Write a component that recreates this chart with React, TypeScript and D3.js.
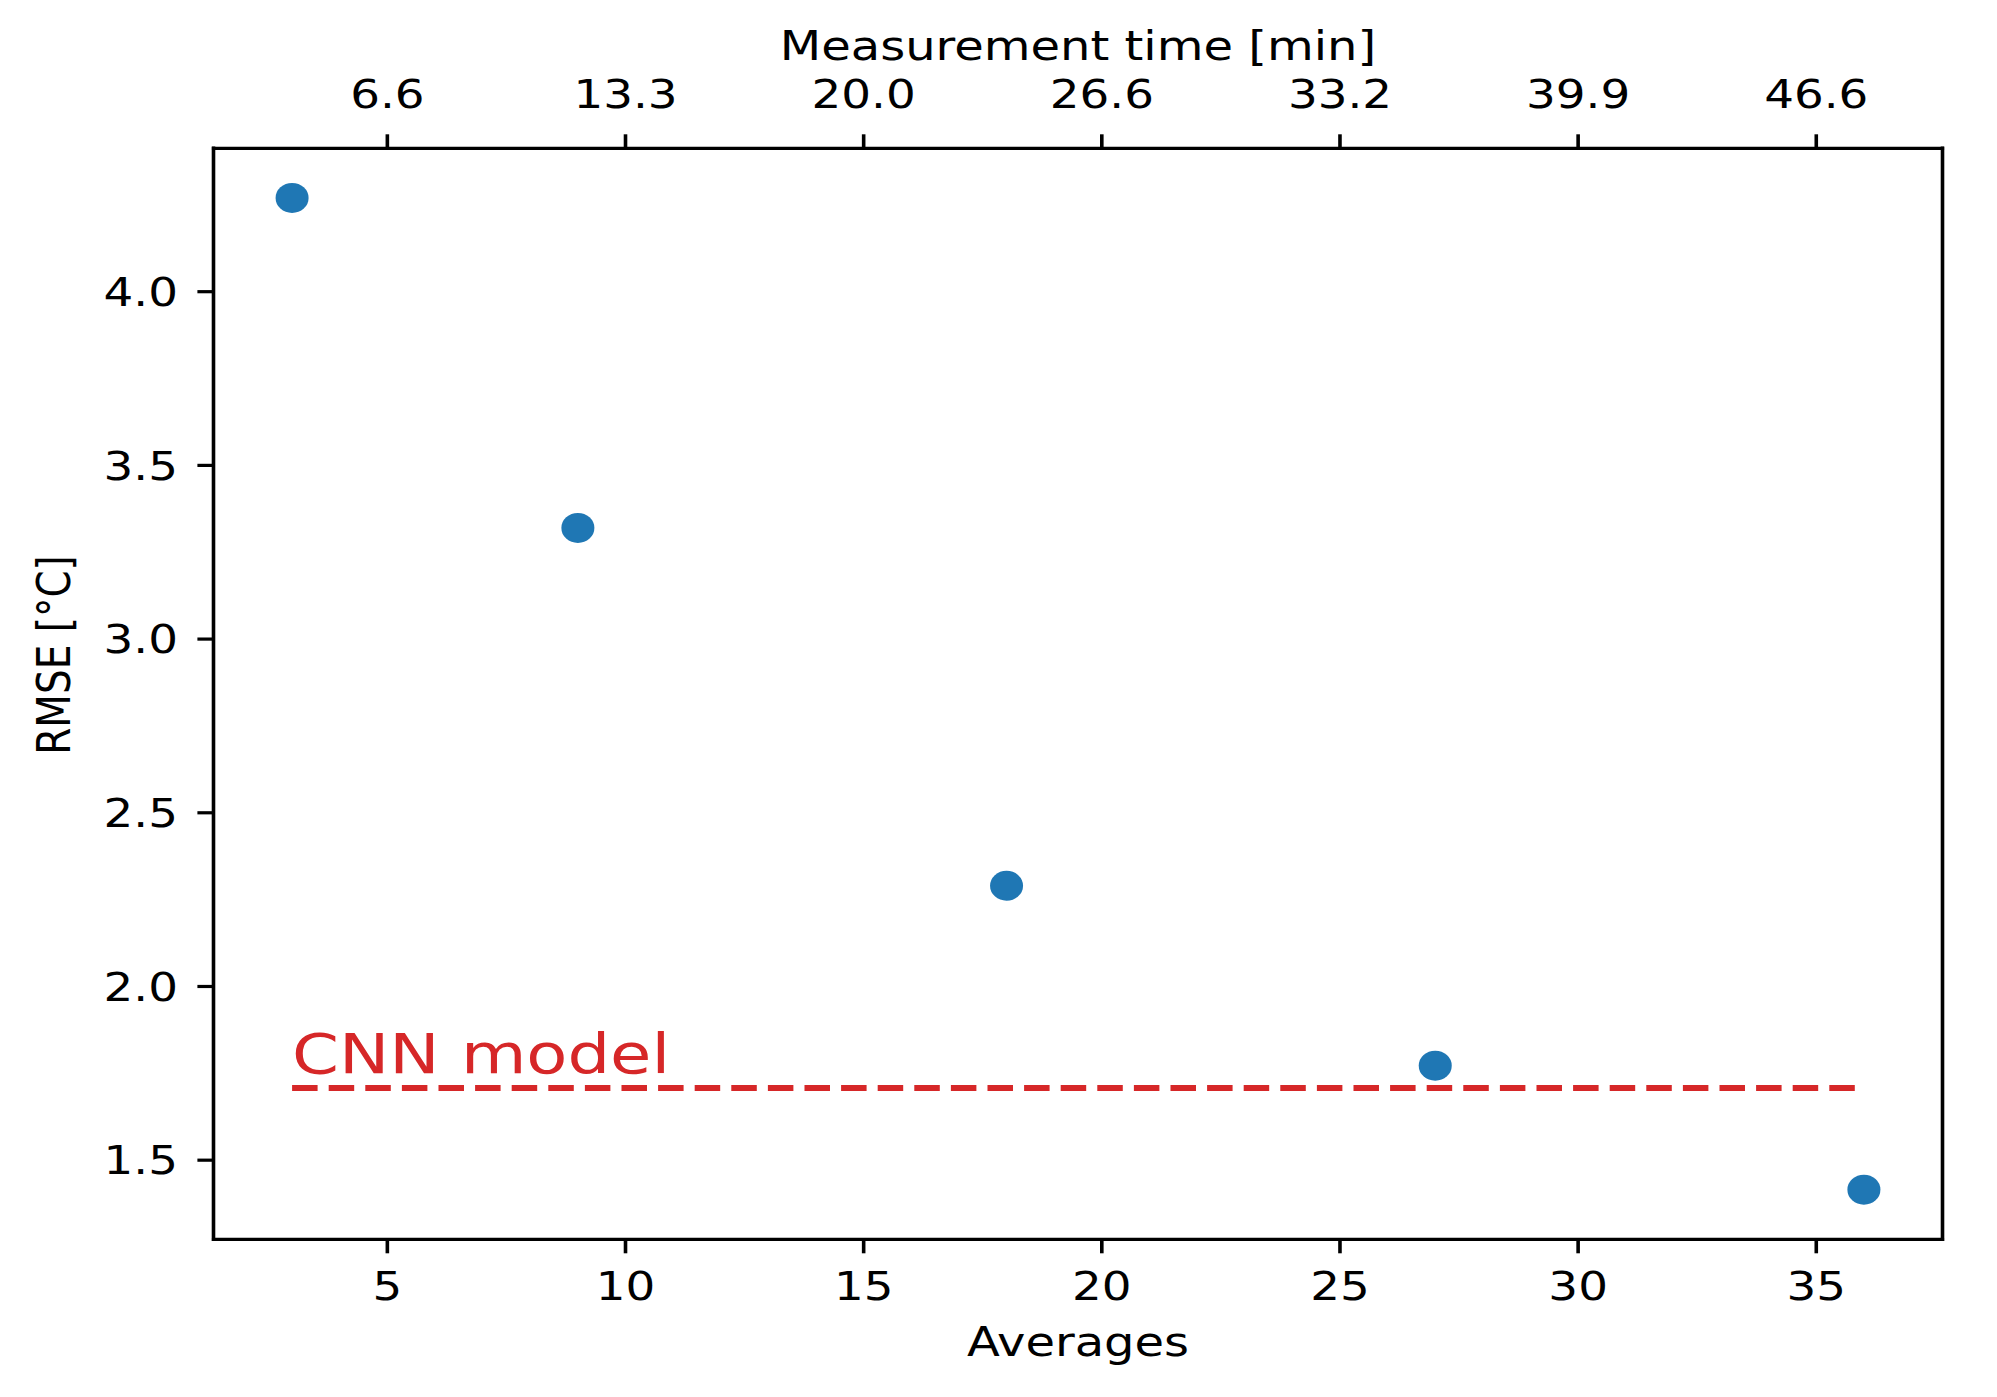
import React from "react";
import * as d3 from "d3";

const averages = [3, 9, 18, 27, 36];
const rmse = [4.27, 3.32, 2.29, 1.772, 1.415];
const cnnRmse = 1.708;
const cnnLabelY = 1.75;
const bottomTicks = [5, 10, 15, 20, 25, 30, 35];
const topTickLabels = ["6.6", "13.3", "20.0", "26.6", "33.2", "39.9", "46.6"];
const yTicks = [1.5, 2.0, 2.5, 3.0, 3.5, 4.0];

const W = 1997;
const H = 1397;
const SX = 1.15; // horizontal stretch of the reference raster
const TSX = 1.2; // text stretch
const left = 213.5, right = 1942.5, top = 148.3, bottom = 1239.3;
const FONT = "DejaVu Sans, sans-serif";
const BLUE = "#1f77b4";
const RED = "#d62728";

function pad(ext: [number, number]): [number, number] {
  const m = (ext[1] - ext[0]) * 0.05;
  return [ext[0] - m, ext[1] + m];
}

export default function App() {
  const x = d3.scaleLinear().domain(pad(d3.extent(averages) as [number, number])).range([left, right]);
  const y = d3.scaleLinear().domain(pad(d3.extent(rmse) as [number, number])).range([bottom, top]);
  const tickLen = 14;
  const T = (tx: number, ty: number) => `translate(${tx},${ty}) scale(${TSX},1)`;
  return (
    <svg width={W} height={H} style={{ position: "absolute", left: 0, top: 0, background: "#fff" }} fontFamily={FONT}>
      <rect x={0} y={0} width={W} height={H} fill="#fff" />
      {/* CNN line */}
      <line x1={x(averages[0])} x2={x(averages[averages.length - 1])} y1={y(cnnRmse)} y2={y(cnnRmse)}
        stroke={RED} strokeWidth={6} strokeDasharray="25.5 11.1" />
      <text transform={T(x(averages[0]), y(cnnLabelY))} fontSize={56} fill={RED}>CNN model</text>
      {/* points */}
      {averages.map((a, i) => (
        <ellipse key={i} cx={x(a)} cy={y(rmse[i])} rx={16.5} ry={15} fill={BLUE} />
      ))}
      {/* frame */}
      <line x1={left} x2={right} y1={top} y2={top} stroke="#000" strokeWidth={3.2} strokeLinecap="square" />
      <line x1={left} x2={right} y1={bottom} y2={bottom} stroke="#000" strokeWidth={3.2} strokeLinecap="square" />
      <line x1={left} x2={left} y1={top} y2={bottom} stroke="#000" strokeWidth={3.6} strokeLinecap="square" />
      <line x1={right} x2={right} y1={top} y2={bottom} stroke="#000" strokeWidth={3.6} strokeLinecap="square" />
      {/* bottom ticks */}
      {bottomTicks.map((t) => (
        <g key={"b" + t}>
          <line x1={x(t)} x2={x(t)} y1={bottom} y2={bottom + tickLen} stroke="#000" strokeWidth={3.6} />
          <text transform={T(x(t), 1300)} fontSize={39} textAnchor="middle" fill="#000">{t}</text>
        </g>
      ))}
      {/* top ticks */}
      {bottomTicks.map((t, i) => (
        <g key={"t" + t}>
          <line x1={x(t)} x2={x(t)} y1={top} y2={top - tickLen} stroke="#000" strokeWidth={3.6} />
          <text transform={T(x(t), 108)} fontSize={39} textAnchor="middle" fill="#000">{topTickLabels[i]}</text>
        </g>
      ))}
      {/* y ticks */}
      {yTicks.map((t) => (
        <g key={"y" + t}>
          <line x1={left} x2={left - tickLen * SX} y1={y(t)} y2={y(t)} stroke="#000" strokeWidth={3.2} />
          <text transform={T(178, y(t) + 14.2)} fontSize={39} textAnchor="end" fill="#000">{t.toFixed(1)}</text>
        </g>
      ))}
      {/* axis labels */}
      <text transform={T((left + right) / 2, 60)} fontSize={40} textAnchor="middle" fill="#000">Measurement time [min]</text>
      <text transform={T((left + right) / 2, 1356)} fontSize={40} textAnchor="middle" fill="#000">Averages</text>
      <text transform={`translate(70,655) scale(${TSX},1) rotate(-90)`} fontSize={39} textAnchor="middle" fill="#000">RMSE [°C]</text>
    </svg>
  );
}
